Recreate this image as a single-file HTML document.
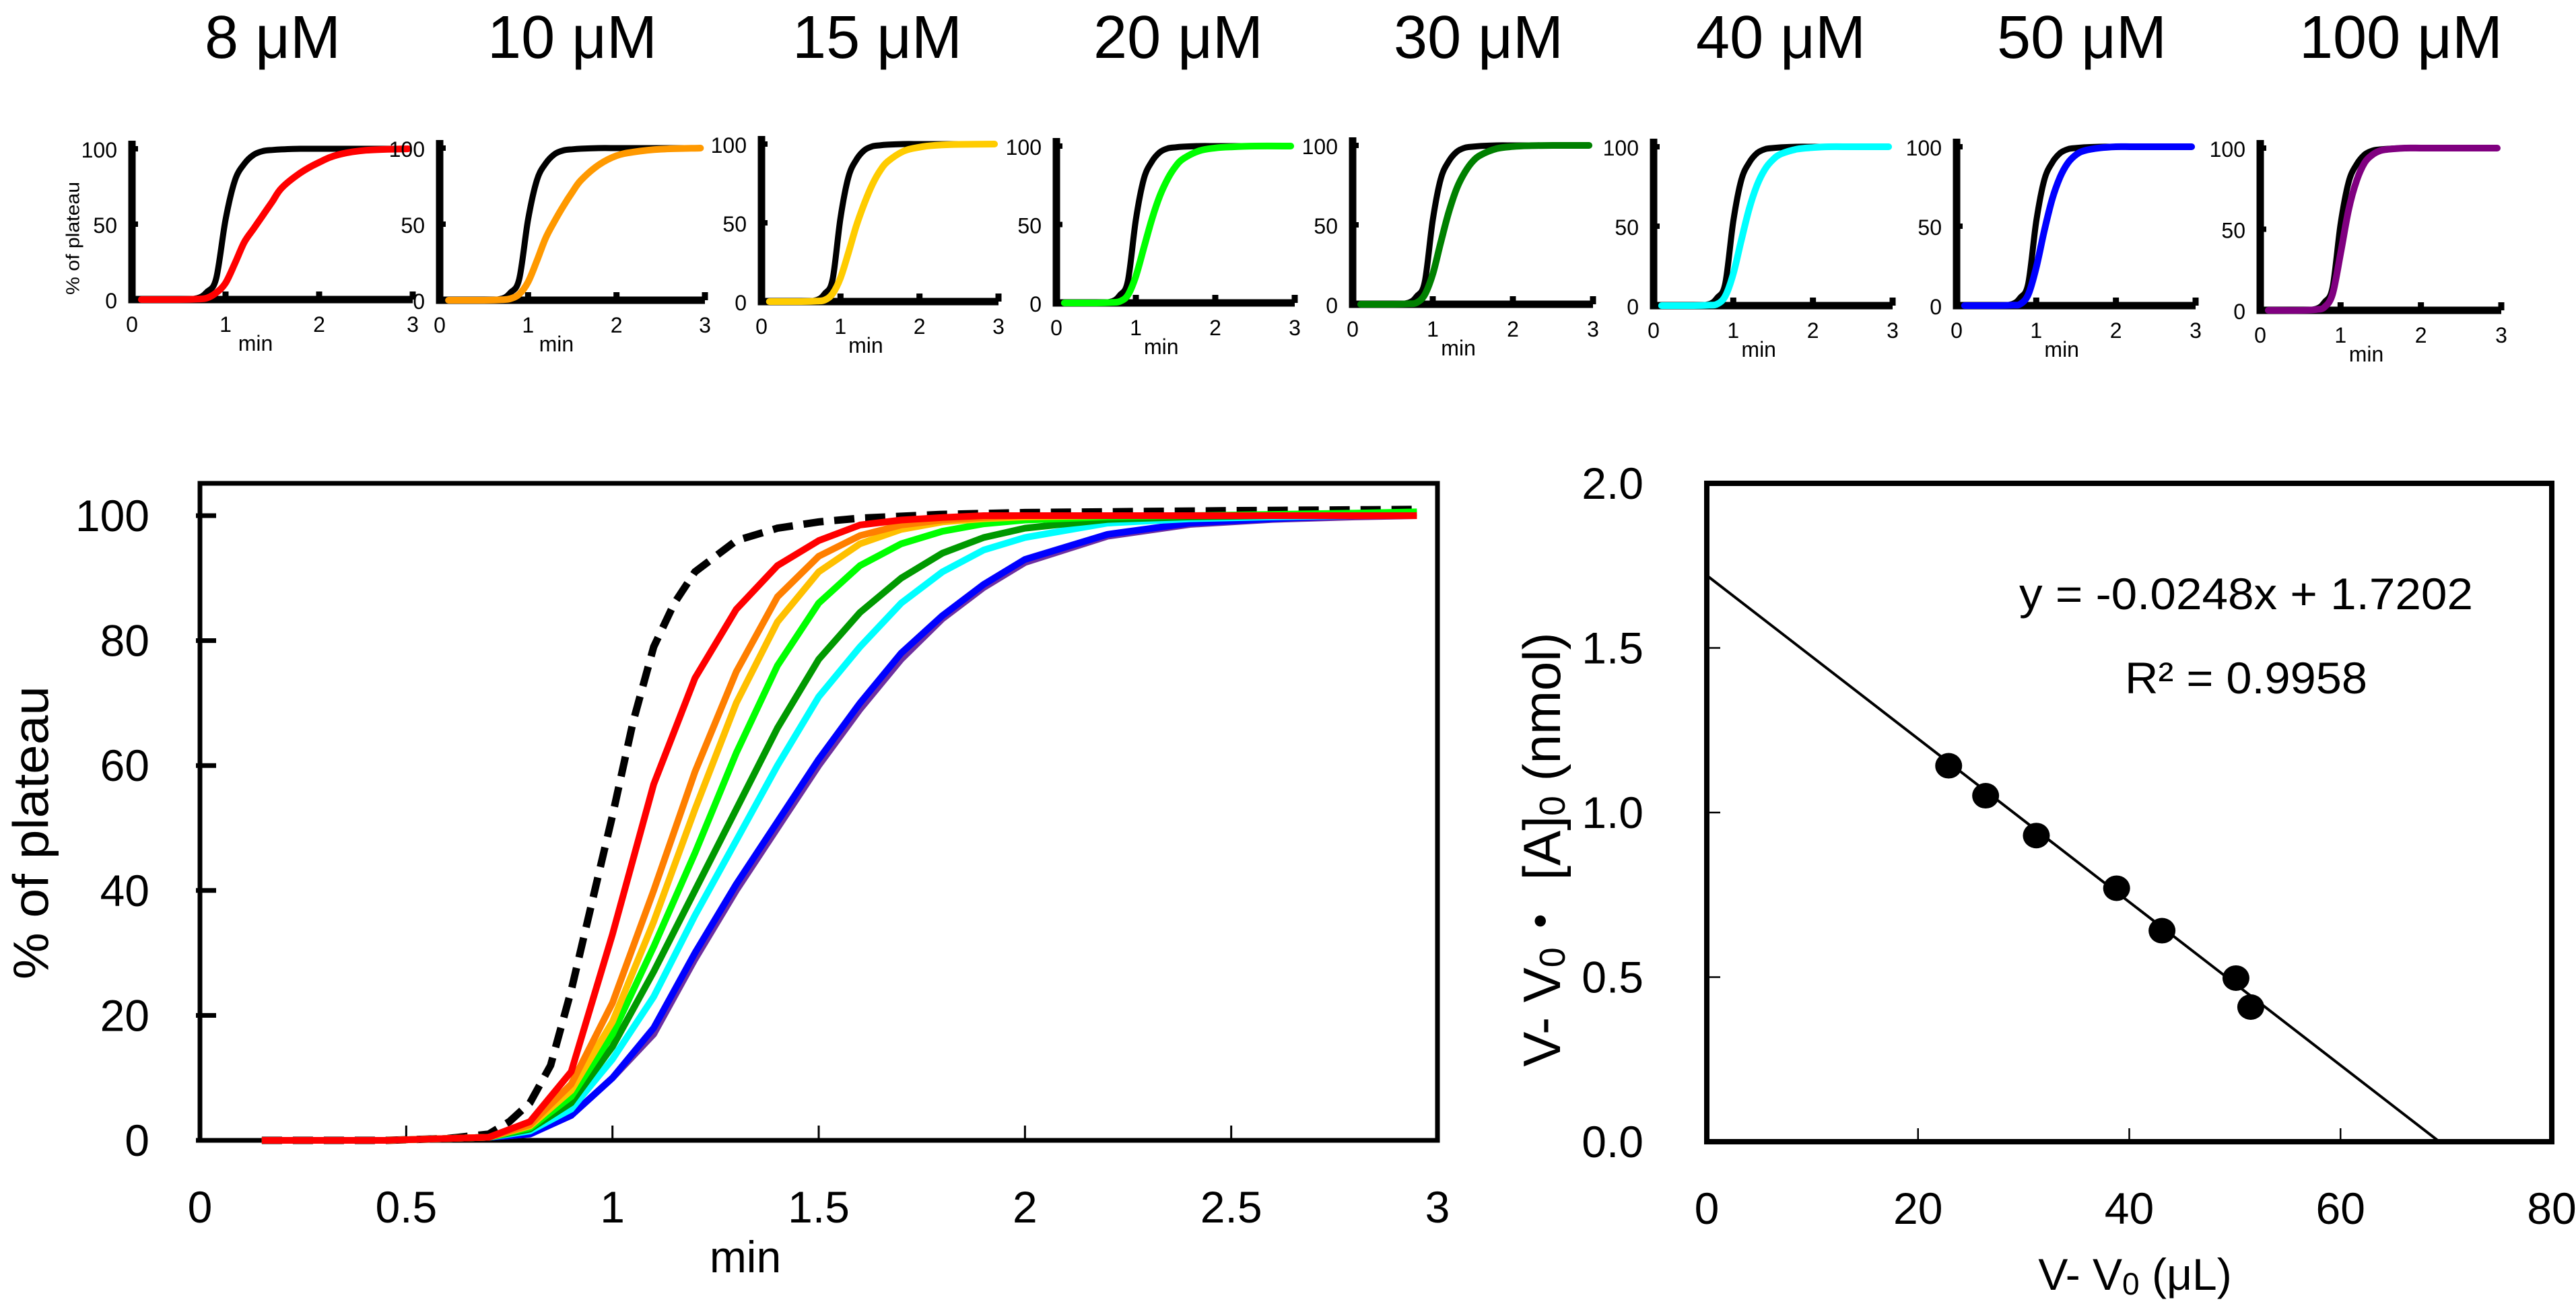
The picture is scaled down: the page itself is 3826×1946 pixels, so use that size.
<!DOCTYPE html>
<html><head><meta charset="utf-8"><style>
html,body{margin:0;padding:0;background:#fff}
svg{display:block}
.n{font-family:"Liberation Sans Narrow","Liberation Sans",Arial,sans-serif}
.s{font-family:"Liberation Sans",Arial,sans-serif}
</style></head><body>
<svg id="fig" xmlns="http://www.w3.org/2000/svg" width="3826" height="1946" viewBox="0 0 3826 1946">
<rect width="3826" height="1946" fill="#fff"/>
<g id="small"></g>
<g id="main"></g>
<g id="lin"></g>
</svg>
<script>
// ---------- small panels data ----------
const smallTitles = ["8 μM","10 μM","15 μM","20 μM","30 μM","40 μM","50 μM","100 μM"];
const smallColors = ["#ff0000","#ff9900","#ffcc00","#00ff00","#008000","#00ffff","#0000ff","#800080"];
const smallTimes = [0.1,0.5,0.7,0.8,0.9,1.0,1.1,1.2,1.3,1.4,1.5,1.6,1.8,2.0,2.2,2.5,2.95];
const smallBlack = [0,0,1,5,14,53,79,90,96,98.5,99.2,99.6,100,100,100,100,100];
const small8 = [0,0,0.3,1,4.5,11,24,38,47,56,65,74,84,91,96,99,100];
const small10 = [0,0,0.3,1,4,12,26,41,52,62,71,79,89,95,97.5,99.3,100];
const small15 = [0,0,0.3,1,5,15,31,48,62,74,83,89,95.5,98,99.2,99.8,100];
const small20 = [0,0,0.3,1,5,17,35,53,68,79,87,92,97,98.8,99.5,100,100];
const small30 = [0,0,0.3,1,6,19,39,58,73,83,90,94,98,99.3,99.8,100,100];
const small40 = [0,0,0.3,1,6,20,41,61,76,86,92,95.5,98.5,99.5,100,100,100];
const small50 = [0,0,0.3,1,7,24,47,67,81,90,95,97.5,99.3,100,100,100,100];
const small100 = [0,0,0.5,2,10,35,62,80,91,96,98.5,99.3,100,100,100,100,100];
const smallXTicks = [0,1,2,3];
const smallYTicks = [0,50,100];

// ---------- main chart data ----------
const mainTimes = [0.15,0.3,0.45,0.6,0.7,0.8,0.9,1.0,1.1,1.2,1.3,1.4,1.5,1.6,1.7,1.8,1.9,2.0,2.2,2.4,2.6,2.8,2.95];
const ctrlTimes = [0.15,0.3,0.45,0.6,0.7,0.75,0.8,0.85,0.9,0.95,1.0,1.05,1.1,1.15,1.2,1.3,1.4,1.5,1.6,1.8,2.0,2.5,2.95];
const ctrlValues = [0,0,0,0.3,1,3,6,12,24,38,52,67,79,86,91,96,98,99,99.6,100.2,100.5,100.8,101];
const purpleValues = [0,0,0,0.3,0.5,1,4,10,17,29,40,50,60,69,77,83.5,88.5,92.5,96.7,98.6,99.4,99.8,100];
const blueValues = [0,0,0,0.3,0.5,1,4,10,18,30,41,51,61,70,78,84,89,93,97,98.8,99.5,100,100];
const cyanValues = [0,0,0,0.3,0.5,1.5,5,13,23,36,48,60,71,79,86,91,94.5,96.5,98.8,99.5,99.8,100,100.3];
const dkgreenValues = [0,0,0,0.3,0.5,1.8,6,15,27,40,53,66,77,84.5,90,94,96.5,98,99.4,99.8,100,100,100.5];
const greenValues = [0,0,0,0.3,0.5,2,7,17,31,46,62,76,86,92,95.5,97.5,98.7,99.3,99.8,100,100.2,100.4,100.6];
const yellowValues = [0,0,0,0.3,0.5,2.3,8,19,35,53,70,83,91,95.5,97.8,99,99.5,99.8,100,100,100,100,100];
const orangeValues = [0,0,0,0.3,0.5,2.5,9,22,40,59,75,87,93.5,96.8,98.5,99.3,99.7,100,100,100,100,100,100];
const redValues = [0,0,0,0.3,0.5,3,11,33,57,74,85,92,96,98.5,99.3,99.7,100,100,100,100,100,100,100];
const mainXTicks = [0,0.5,1,1.5,2,2.5,3];
const mainXLabels = ["0","0.5","1","1.5","2","2.5","3"];
const mainYTicks = [0,20,40,60,80,100];

// ---------- linear chart data ----------
const linX = [22.9,26.4,31.2,38.8,43.1,50.1,51.5];
const linY = [1.142,1.051,0.930,0.770,0.641,0.497,0.409];
const fitSlope = -0.0248;
const fitIntercept = 1.7202;
const linXTicks = [0,20,40,60,80];
const linYTicks = [0,0.5,1,1.5,2];
const linYLabels = ["0.0","0.5","1.0","1.5","2.0"];

const NS="http://www.w3.org/2000/svg";
function mk(tag, attrs, parent){const e=document.createElementNS(NS,tag);for(const k in attrs)e.setAttribute(k,attrs[k]);parent.appendChild(e);return e;}
function txt(parent,x,y,s,cls,size,anchor,extra){const t=mk('text',Object.assign({x:x,y:y,'class':cls,'font-size':size,'text-anchor':anchor||'middle','dominant-baseline':'central',fill:'#000'},extra||{}),parent);t.textContent=s;return t;}
function pathD(xs,ys,sx,sy){return xs.map((v,i)=>(i?'L':'M')+sx(v).toFixed(1)+' '+sy(ys[i]).toFixed(1)).join(' ');}
function smoothD(xs,ys,sx,sy){
  const P=xs.map((v,i)=>[sx(v),sy(ys[i])]);
  let d='M'+P[0][0].toFixed(1)+' '+P[0][1].toFixed(1);
  for(let i=0;i<P.length-1;i++){
    const p0=P[Math.max(0,i-1)],p1=P[i],p2=P[i+1],p3=P[Math.min(P.length-1,i+2)];
    const c1=[p1[0]+(p2[0]-p0[0])/6,p1[1]+(p2[1]-p0[1])/6];
    const c2=[p2[0]-(p3[0]-p1[0])/6,p2[1]-(p3[1]-p1[1])/6];
    d+=' C'+c1[0].toFixed(1)+' '+c1[1].toFixed(1)+' '+c2[0].toFixed(1)+' '+c2[1].toFixed(1)+' '+p2[0].toFixed(1)+' '+p2[1].toFixed(1);
  }
  return d;
}

// ---------- small panels ----------
const smallG=document.getElementById('small');
const smallSeries=[small8,small10,small15,small20,small30,small40,small50,small100];
const panelLeft=[196,653,1131,1569,2009,2456,2906,3357];
const panelRight=[613,1047,1483,1923,2366,2811,3261,3715];
const panelTop=[221,220,214,217,216,218,218,220];
const panelBot=[445,446,448,450,452,454,454,461];
const titleX=[405,850,1303,1750,2196,2645,3092,3566];
smallSeries.forEach((vals,i)=>{
  const g=mk('g',{},smallG);
  
  
  const L=panelLeft[i],R=panelRight[i],T=panelTop[i],B=panelBot[i];
  const sx=v=>L+(R-L)*v/3, sy=v=>B-(B-T)*v/100;
  const tt=txt(g,titleX[i],56,smallTitles[i],'s',90,'middle');
  
  
  const ax=mk('path',{d:`M${L} ${T-12} L${L} ${B} L${R} ${B}`,fill:'none',stroke:'#000','stroke-width':11},g);
  
  
  smallYTicks.forEach(v=>{
    mk('line',{x1:L,x2:L+9,y1:sy(v),y2:sy(v),stroke:'#000','stroke-width':8},g);
    const l=txt(g,L-22,sy(v)+2,String(v),'n',32,'end');
    
    
  });
  smallXTicks.forEach(v=>{
    if(v>0) mk('line',{x1:sx(v),x2:sx(v),y1:B,y2:B-12,stroke:'#000','stroke-width':9},g);
    const l=txt(g,sx(v),B+37,String(v),'n',32,'middle');
    
    
  });
  const m=txt(g,sx(1.32),B+65,'min','n',32,'middle');
  
  
  const bl=mk('path',{d:smoothD(smallTimes,smallBlack,sx,sy),fill:'none',stroke:'#000','stroke-width':9,'stroke-linejoin':'round','stroke-linecap':'round'},g);
  
  
  const cl=mk('path',{d:smoothD(smallTimes,vals,sx,sy),fill:'none',stroke:smallColors[i],'stroke-width':10,'stroke-linejoin':'round','stroke-linecap':'round'},g);
  
  
});
{
  const yt=txt(smallG,0,0,'% of plateau','s',28,'middle',{transform:'translate(108,354) rotate(-90)',textLength:168,lengthAdjust:'spacingAndGlyphs'});
  
  
}

// ---------- main chart ----------
const mainG=document.getElementById('main');
const mL=297,mR=2135,mT=718,mB=1694,mY100=766;
const mx=v=>mL+(mR-mL)*v/3, my=v=>mB-(mB-mY100)*v/100;
const frame=mk('rect',{x:mL,y:mT,width:mR-mL,height:mB-mT,fill:'none',stroke:'#000','stroke-width':7},mainG);


mainYTicks.forEach(v=>{
  mk('line',{x1:mL-6,x2:mL+24,y1:my(v),y2:my(v),stroke:'#000','stroke-width':7},mainG);
  const l=txt(mainG,222,my(v),String(v),'n',66,'end');
  
  
});
mainXTicks.forEach((v,i)=>{
  if(v>0&&v<3) mk('line',{x1:mx(v),x2:mx(v),y1:mB,y2:mB-22,stroke:'#000','stroke-width':3},mainG);
  const l=txt(mainG,mx(v),1793,mainXLabels[i],'n',66,'middle');
  
  
});
{
  const xt=txt(mainG,1107,1867,'min','n',66,'middle');
  
  
  const yt=txt(mainG,0,0,'% of plateau','s',74,'middle',{transform:'translate(46,1237) rotate(-90)',textLength:436,lengthAdjust:'spacingAndGlyphs'});
  
  
}
const mainSeries=[[purpleValues,'#7030a0','series-100uM'],[blueValues,'#0000ff','series-50uM'],[cyanValues,'#00ffff','series-40uM'],[dkgreenValues,'#009900','series-30uM'],[greenValues,'#00ff00','series-20uM'],[yellowValues,'#ffc000','series-15uM'],[orangeValues,'#ff7f00','series-10uM'],[redValues,'#ff0000','series-8uM']];
{
  const c=mk('path',{d:pathD(ctrlTimes,ctrlValues,mx,my),fill:'none',stroke:'#000','stroke-width':11,'stroke-dasharray':'30 16'},mainG);
  
  
}
mainSeries.forEach(s=>{
  const p=mk('path',{d:pathD(mainTimes,s[0],mx,my),fill:'none',stroke:s[1],'stroke-width':10,'stroke-linejoin':'round'},mainG);
  
  
});

// ---------- linear chart ----------
const linG=document.getElementById('lin');
const lL=2535,lR=3790,lT=718,lB=1696;
const lx=v=>lL+(lR-lL)*v/80, ly=v=>lB-(lB-lT)*v/2;
const lf=mk('rect',{x:lL,y:lT,width:lR-lL,height:lB-lT,fill:'none',stroke:'#000','stroke-width':8},linG);


linYTicks.forEach((v,i)=>{
  if(v>0&&v<2) mk('line',{x1:lL,x2:lL+20,y1:ly(v),y2:ly(v),stroke:'#000','stroke-width':2.5},linG);
  const l=txt(linG,2441,ly(v),linYLabels[i],'n',66,'end');
  
  
});
linXTicks.forEach(v=>{
  if(v>0&&v<80) mk('line',{x1:lx(v),x2:lx(v),y1:lB,y2:lB-20,stroke:'#000','stroke-width':2.5},linG);
  const l=txt(linG,lx(v),1795,String(v),'n',66,'middle');
  
  
});
{
  const x0=-fitIntercept/fitSlope;
  const fl=mk('line',{x1:lx(0),y1:ly(fitIntercept),x2:lx(x0),y2:ly(0),stroke:'#000','stroke-width':4},linG);
  
  
}
linX.forEach((v,i)=>{
  const c=mk('ellipse',{cx:lx(v),cy:ly(linY[i]),rx:20,ry:19,fill:'#000'},linG);
  
  
});
{
  const e=txt(linG,3336,882,'y = -0.0248x + 1.7202','n',66,'middle',{textLength:674,lengthAdjust:'spacingAndGlyphs'});
  
  
  const r=txt(linG,3336,1007,'R² = 0.9958','n',66,'middle',{textLength:360,lengthAdjust:'spacingAndGlyphs'});
  
  
  const xt=mk('text',{x:3171,y:1893,'class':'n','font-size':66,'text-anchor':'middle','dominant-baseline':'central'},linG);
  xt.innerHTML='V- V<tspan font-size="46" dy="14">0</tspan><tspan dy="-14"> (μL)</tspan>';
  
  
  const yt=mk('text',{'class':'s','font-size':78,'text-anchor':'middle','dominant-baseline':'central',transform:'translate(2290,1262) rotate(-90)'},linG);
  yt.innerHTML='V- V<tspan font-size="54" dy="16">0</tspan><tspan dy="-16">・ [A]</tspan><tspan font-size="54" dy="16">0</tspan><tspan dy="-16"> (nmol)</tspan>';
  
  
}
</script>
</body></html>
